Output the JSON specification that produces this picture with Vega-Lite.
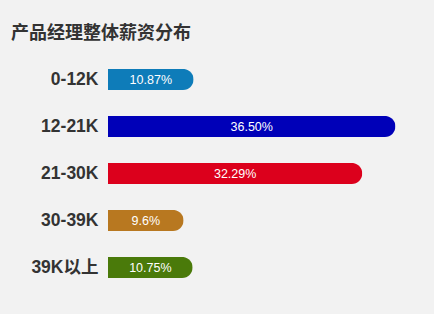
{
  "$schema": "https://vega.github.io/schema/vega-lite/v6.json",
  "width": 315,
  "height": 235,
  "autosize": "none",
  "padding": {"left": 108, "top": 56, "right": 11, "bottom": 23},
  "background": "#f2f2f2",
  "title": {
    "text": "产品经理整体薪资分布",
    "anchor": "start",
    "frame": "group",
    "dx": -97,
    "offset": 13,
    "fontSize": 18,
    "fontWeight": "bold",
    "color": "#333333",
    "font": "Noto Sans CJK SC"
  },
  "config": {"view": {"stroke": null}},
  "data": {
    "values": [
      {"range": "0-12K", "pct": 10.87, "label": "10.87%"},
      {"range": "12-21K", "pct": 36.5, "label": "36.50%"},
      {"range": "21-30K", "pct": 32.29, "label": "32.29%"},
      {"range": "30-39K", "pct": 9.6, "label": "9.6%"},
      {"range": "39K以上", "pct": 10.75, "label": "10.75%"}
    ]
  },
  "encoding": {
    "y": {
      "field": "range",
      "type": "nominal",
      "sort": null,
      "scale": {"paddingInner": 0.55, "paddingOuter": 0.275},
      "axis": {
        "title": null,
        "domain": false,
        "ticks": false,
        "labelPadding": 10,
        "labelFontSize": 17.5,
        "labelFontWeight": "bold",
        "labelColor": "#333333",
        "labelFont": "Liberation Sans, Noto Sans CJK SC"
      }
    }
  },
  "layer": [
    {
      "mark": {"type": "bar", "cornerRadiusEnd": 10.5},
      "encoding": {
        "x": {"field": "pct", "type": "quantitative", "scale": {"domain": [0, 40]}, "axis": null},
        "color": {
          "field": "range",
          "type": "nominal",
          "scale": {
            "domain": ["0-12K", "12-21K", "21-30K", "30-39K", "39K以上"],
            "range": ["#0e7cb9", "#0000b8", "#dc001c", "#b87820", "#4a7a0a"]
          },
          "legend": null
        }
      }
    },
    {
      "mark": {"type": "text", "color": "white", "fontSize": 12.5, "font": "Liberation Sans", "align": "center", "baseline": "middle"},
      "encoding": {
        "x": {"field": "pct", "type": "quantitative", "scale": {"domain": [0, 80]}, "axis": null},
        "text": {"field": "label"}
      }
    }
  ],
  "resolve": {"scale": {"x": "independent"}}
}
